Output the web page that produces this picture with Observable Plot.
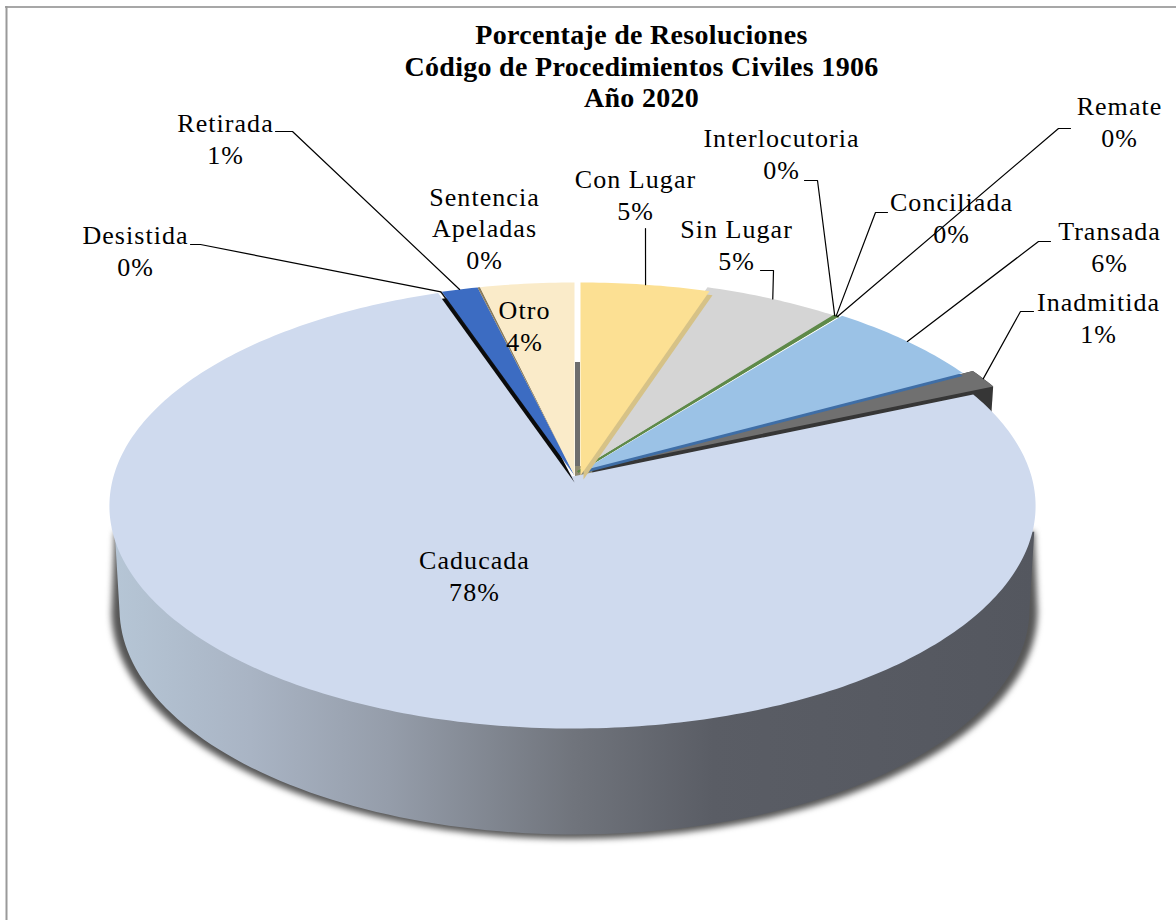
<!DOCTYPE html>
<html>
<head>
<meta charset="utf-8">
<style>html,body{margin:0;padding:0;background:#fff}svg{display:block}</style>
<script src="https://cdn.jsdelivr.net/npm/d3@7"></script>
<script src="https://cdn.jsdelivr.net/npm/@observablehq/plot@0.6"></script>
</head>
<body>
<div id="chart"></div>
<script>
// Data, clockwise from 12 o'clock
const categories = ["Con Lugar","Sin Lugar","Interlocutoria","Conciliada","Remate","Transada","Inadmitida","Caducada","Desistida","Retirada","Sentencia\nApeladas","Otro"];
const shares     = [5.15, 5.45, 0.05, 0.08, 0.05, 6.45, 1.4, 76.5, 0.07, 1.45, 0.1, 3.75];
const percentLabels = ["5%","5%","0%","0%","0%","6%","1%","78%","0%","1%","0%","4%"];
const sliceColors = ["#fce093","#d5d5d5","#5a8a44","#5f8f4a","#4f7f3a","#9bc2e6","#707070","#cfdaee","#111111","#3c6cc2","#8b7d5e","#faebc9"];
const titleLines = ["Porcentaje de Resoluciones","Código de Procedimientos Civiles 1906","Año 2020"];

// Layout (not data)
const W = 1176, H = 920;
const pull = {"Con Lugar":[6,0],"Sin Lugar":[4,-4],"Interlocutoria":[4,-4],"Conciliada":[4,-4],"Remate":[4,-4],"Transada":[8,-5],"Inadmitida":[18,-7],"Caducada":[-2,1],"Desistida":[0,0],"Retirada":[0,0],"Sentencia\nApeladas":[0,0],"Otro":[0,0]};
const labelAt = {"Con Lugar":[635,196],"Sin Lugar":[736,246],"Interlocutoria":[781,155],"Conciliada":[951,219],"Remate":[1119,123],"Transada":[1109,248],"Inadmitida":[1098,319],"Caducada":[474,577],"Desistida":[135,252],"Retirada":[225,140],"Sentencia\nApeladas":[484,229],"Otro":[524,327]};
const leaderStart = {"Con Lugar":[[645,228]],"Sin Lugar":[[760,270],[773,270]],"Interlocutoria":[[804,180],[817,180]],"Conciliada":[[887,212],[875,212]],"Remate":[[1070,128],[1058,128]],"Transada":[[1050,241],[1038,241]],"Inadmitida":[[1033,311],[1020,311]],"Desistida":[[190,244],[200,244]],"Retirada":[[275,131],[292,131]]};

// Perspective disc: the centre of the pie is not the centre of the projected ellipse.
const upper = {ax:574, ay:475, A:459, B:218.6, k:0.1326};
const lower = {ax:574, ay:578, A:451, B:222, k:0.1326};
const shade = {ax:574, ay:580, A:459, B:224, k:0.1326};
const project = (g, frac, off=[0,0]) => {
  const t = 2*Math.PI*frac, X = Math.sin(t), Y = Math.cos(t), w = 1 + g.k*Y;
  return [g.ax + off[0] + g.A*X/w, g.ay + off[1] - g.B*Y/w];
};

const total = d3.sum(shares);
let acc = 0;
const slices = categories.map((name,i)=>{
  const a0 = acc/total; acc += shares[i]; const a1 = acc/total;
  return {name, a0, a1, mid:(a0+a1)/2, color:sliceColors[i], pct:percentLabels[i], off:pull[name]};
});
const s = Object.fromEntries(slices.map(d=>[d.name,d]));

const sector = (d, shift=[0,0]) => {
  const off = [d.off[0]+shift[0], d.off[1]+shift[1]];
  const n = Math.max(2, Math.ceil((d.a1-d.a0)*400));
  const pts = [[upper.ax+off[0], upper.ay+off[1]]];
  for (let i=0;i<=n;i++) pts.push(project(upper, d.a0+(d.a1-d.a0)*i/n, off));
  return pts;
};
// Side of a pulled-out slice: its clockwise edge and its rim, swept downward
const extrude = (d, drop) => {
  const arc = sector(d).slice(1), apex = sector(d)[0], end = arc[arc.length-1];
  const down = p => [p[0]+drop[0], p[1]+drop[1]];
  return [apex, ...arc, down(end), down(apex)];
};
const poly = (pts, fill, extra={}) => Plot.line(pts, {x:d=>d[0], y:d=>d[1], fill, stroke:"none", ...extra});
const styled = css => (index, scales, values, dims, ctx, next) => { const g = next(index, scales, values, dims, ctx); Object.assign(g.style, css); return g; };

// Silhouettes of the disc side and its shadow
const sweep = d3.range(0.271, 0.7291, 0.004);
const hull = g => [project(upper,0.29), ...sweep.map(f=>project(g,f)), project(upper,0.71)];

const gradient = () => {
  const defs = d3.create("svg:defs");
  const lg = defs.append("linearGradient").attr("id","wall").attr("gradientUnits","userSpaceOnUse").attr("x1",111).attr("x2",1036).attr("y1",0).attr("y2",0);
  [[0,"#b6c6d6"],[0.15,"#a9b4c4"],[0.3,"#959daa"],[0.5,"#70747c"],[0.65,"#5a5d65"],[1,"#54575f"]].forEach(([o,c])=>lg.append("stop").attr("offset",o).attr("stop-color",c));
  return defs.node();
};

const wall = (name, shift, color) => poly(sector(s[name], shift), color);
const face = (name, extra) => poly(sector(s[name]), s[name].color, extra);

// Leaders run from the label to the slice's outer edge
const leaders = Object.entries(leaderStart).map(([name,pts])=>{
  const end = project(upper, s[name].mid, s[name].off);
  return Plot.line([...pts,end], {x:d=>d[0], y:d=>d[1], stroke:"#000", strokeWidth:1.2});
});

const labelRows = slices.map(d=>({text:`${d.name}\n${d.pct}`, x:labelAt[d.name][0], y:labelAt[d.name][1]-2.5}));
const titleRows = [{text:titleLines.join("\n")}];
const serif = "'Liberation Serif', serif";
const green = {stroke:"#5f8a4a", strokeWidth:1.8};

const plot = Plot.plot({
  width:W, height:H, margin:0,
  x:{domain:[0,W], range:[0,W], axis:null},
  y:{domain:[0,H], range:[0,H], axis:null},
  marks:[
    gradient,
    Plot.ruleY([6.5], {x1:5, x2:W, stroke:"#8a8a8a", strokeWidth:1.5}),
    Plot.ruleX([6], {y1:6, y2:H, stroke:"#9a9a9a", strokeWidth:2}),
    poly(hull(shade), "#555555", {render:styled({filter:"blur(3px)"})}),
    poly(hull(lower), "url(#wall)"),
    Plot.rect([{}], {x1:()=>upper.ax+1, x2:()=>upper.ax+6, y1:()=>upper.ay-113, y2:()=>upper.ay, fill:"#6d6d6d"}),
    Plot.rect([{}], {x1:()=>upper.ax+1, x2:()=>upper.ax+22, y1:()=>upper.ay-9, y2:()=>upper.ay+2, fill:"#8f8a70"}),
    face("Sin Lugar"),
    poly(extrude(s["Inadmitida"],[-2,30]), "#363636"),
    face("Caducada"),
    wall("Retirada",[0,7],"#0b0b0b"),
    face("Desistida"),
    face("Retirada"),
    face("Sentencia\nApeladas"),
    face("Otro"),
    face("Inadmitida"),
    wall("Transada",[0,3],"#3f6ea6"),
    face("Transada"),
    face("Interlocutoria", green),
    face("Conciliada", green),
    face("Remate", green),
    wall("Con Lugar",[3,4],"#d6c287"),
    face("Con Lugar"),
    ...leaders,
    Plot.text(labelRows, {x:"x", y:"y", text:"text", fontFamily:serif, fontSize:26, lineHeight:1.21, lineAnchor:"middle", textAnchor:"middle", fill:"#000", render:styled({letterSpacing:"1.05px"})}),
    Plot.text(titleRows, {x:()=>641, y:()=>65, text:"text", fontFamily:serif, fontSize:28, fontWeight:"bold", lineHeight:1.125, lineAnchor:"middle", textAnchor:"middle", fill:"#000", render:styled({letterSpacing:"0.3px"})})
  ]
});
document.getElementById("chart").append(plot);
</script>
</body>
</html>
